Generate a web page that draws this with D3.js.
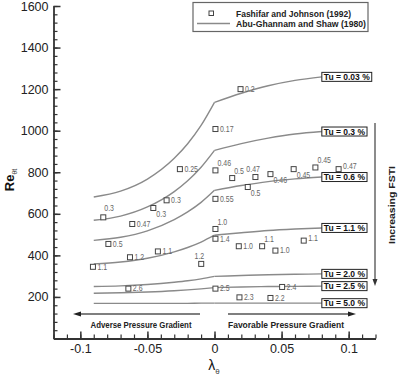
<!DOCTYPE html>
<html><head><meta charset="utf-8">
<script src="https://cdn.jsdelivr.net/npm/d3@7"></script>
<style>body{margin:0;background:#fff}svg{display:block}</style>
</head><body><svg id="c" width="402" height="378"></svg>
<script>
// ---- data ----
const lambdaGrid = [-0.09,-0.07,-0.05,-0.03,-0.02,-0.01,0,0.02,0.04,0.06,0.08];
const tuLabels = ["Tu = 0.03 %","Tu = 0.3 %","Tu = 0.6 %","Tu = 1.1 %","Tu = 2.0 %","Tu = 2.5 %","Tu = 5.0 %"];
const reTu003 = [681,709,767,867,937,1025,1136,1180,1216,1242,1259];
const reTu03  = [569,589,633,707,759,824,905,938,964,984,996];
const reTu06  = [472,487,518,572,609,655,713,736,755,768,777];
const reTu11  = [359,368,386,417,438,464,497,509,520,527,532];
const reTu20  = [250,253,260,271,278,287,299,303,307,309,311];
const reTu25  = [218,220,224,230,234,239,245,248,250,251,252];
const reTu50  = [169,169,169,169,169,170,170,170,170,170,170];
const curves = [reTu003,reTu03,reTu06,reTu11,reTu20,reTu25,reTu50];

const expLambda = [0.0194,0.0007,0.0007,0.0132,0.0305,0.0417,0.059,0.0752,0.0925,0.0248,0.0007,
  0.0007,0.0007,0.0181,0.0355,0.0454,0.0665,0.0007,0.0504,0.0186,0.0417,
  -0.0258,-0.0829,-0.0357,-0.0456,-0.0613,-0.0791,-0.063,-0.0422,-0.0099,-0.0906,-0.0642];
const expRe = [1200,1008,809,772,777,791,815,823,815,729,672,
  527,480,444,444,423,471,240,248,198,195,
  815,583,665,628,551,455,391,419,359,345,240];
const expTu = ["0.2","0.17","0.46","0.5","0.47","0.46","0.45","0.45","0.47","0.5","0.55",
  "1.0","1.4","1.0","1.1","1.0","1.1","2.5","2.4","2.3","2.2",
  "0.25","0.3","0.3","0.3","0.47","0.5","1.2","1.1","1.2","1.1","2.6"];
const expLabelPlace = ["r","r","ar","ar","ae","br","br","ar","ru","br","r",
  "ar","r","r","ar","r","ru","r","r","r","r",
  "r","a","r","br","r","r","r","r","al","r","r"];

const yTicks = [200,400,600,800,1000,1200,1400,1600];
const yTickLabels = ["200","400","600","800","1000","1200","1400","1600"];
const xTicks = [-0.1,-0.05,0,0.05,0.1];
const xTickLabels = ["-0.1","-0.05","0","0.05","0.1"];
const legendLabels = ["Fashifar and Johnson (1992)","Abu-Ghannam and Shaw (1980)"];

// ---- drawing ----
const svg = d3.select("#c");
const x = d3.scaleLinear().domain([-0.12,0.12]).range([53.5,375.5]);
const y = d3.scaleLinear().domain([0,1600]).range([338.5,6]);
const axisCol = "#333", curveCol = "#8a8a8a";
const FONT = "'Liberation Sans', Arial, sans-serif";

// minor ticks
svg.append("g").attr("transform","translate(53.5,0)")
  .call(d3.axisLeft(y).tickValues(d3.range(0,1601,40)).tickSizeInner(-4).tickSizeOuter(0).tickFormat(""))
  .call(g=>g.selectAll("line").attr("stroke",axisCol).attr("stroke-width",1.2))
  .call(g=>g.select(".domain").remove());
svg.append("g").attr("transform","translate(0,338.5)")
  .call(d3.axisBottom(x).tickValues(d3.range(-12,13).map(d=>d/100)).tickSizeInner(-4).tickSizeOuter(0).tickFormat(""))
  .call(g=>g.selectAll("line").attr("stroke",axisCol).attr("stroke-width",1.2))
  .call(g=>g.select(".domain").remove());

// major axes
const yAx = svg.append("g").attr("transform","translate(53.5,0)")
  .call(d3.axisLeft(y).tickValues(yTicks).tickSizeInner(-7).tickSizeOuter(0).tickPadding(5)
    .tickFormat((d,i)=>yTickLabels[i]));
const xAx = svg.append("g").attr("transform","translate(0,338.5)")
  .call(d3.axisBottom(x).tickValues(xTicks).tickSizeInner(-7).tickSizeOuter(0).tickPadding(6)
    .tickFormat((d,i)=>xTickLabels[i]));
[yAx,xAx].forEach(g=>{
  g.select(".domain").attr("stroke",axisCol).attr("stroke-width",1.8);
  g.selectAll("line").attr("stroke",axisCol).attr("stroke-width",1.5);
  g.selectAll("text").attr("font-family",FONT).attr("font-size",12.5).attr("fill","#222");
});

// axis titles
const yt = svg.append("text").attr("transform","translate(14,180) rotate(-90)")
  .attr("font-family",FONT).attr("text-anchor","middle").attr("fill","#111");
yt.append("tspan").attr("font-size",13).attr("font-weight","bold").text("Re");
yt.append("tspan").attr("font-size",7).attr("dy",3).attr("fill","#444").text("θt");
const xt = svg.append("text").attr("x",214).attr("y",370)
  .attr("font-family",FONT).attr("text-anchor","middle").attr("fill","#111");
xt.append("tspan").attr("font-size",14).text("λ");
xt.append("tspan").attr("font-size",8).attr("dy",4).attr("fill","#444").text("θ");

// curves: split at lambda = 0 to keep the kink
const line = d3.line().x(d=>x(d[0])).y(d=>y(d[1])).curve(d3.curveMonotoneX);
curves.forEach((vals,ci)=>{
  const pts = lambdaGrid.map((l,i)=>[l,vals[i]]);
  [pts.filter(p=>p[0]<=0), pts.filter(p=>p[0]>=0)].forEach(seg=>{
    svg.append("path").attr("d",line(seg)).attr("fill","none")
      .attr("stroke",curveCol).attr("stroke-width",1.4);
  });
});

// experimental points
const off = {r:[4.5,0,"start"],ru:[4.5,-2.5,"start"],ar:[2,-7,"start"],br:[3,6,"start"],
  a:[1,-9,"start"],al:[3,-8,"end"],ae:[4.5,-8,"end"]};
expLambda.forEach((l,i)=>{
  const px = x(l), py = y(expRe[i]);
  svg.append("rect").attr("x",px-2.5).attr("y",py-2.5).attr("width",5).attr("height",5)
    .attr("fill","#fff").attr("stroke","#444").attr("stroke-width",1);
  const o = off[expLabelPlace[i]];
  const t = svg.append("text").attr("x",px+o[0]).attr("y",py+o[1]).attr("dy","0.33em")
    .attr("text-anchor",o[2]).attr("font-family",FONT).attr("font-size",8.5).attr("fill","#666")
    .text(expTu[i]);
  const w = t.node().getComputedTextLength();
  t.attr("textLength",w*0.82).attr("lengthAdjust","spacingAndGlyphs");
});

// Tu label boxes at curve ends (drawn above the points)
curves.forEach((vals,ci)=>{
  const ex = x(lambdaGrid[lambdaGrid.length-1]), ey = y(vals[vals.length-1]);
  const g = svg.append("g");
  const t = g.append("text").attr("x",ex+2).attr("y",ey+3)
    .attr("font-family",FONT).attr("font-size",8.5).attr("font-weight","bold").attr("fill","#111")
    .text(tuLabels[ci]);
  const w = t.node().getComputedTextLength();
  g.insert("rect","text").attr("x",ex).attr("y",ey-4.5).attr("width",w+4).attr("height",9)
    .attr("fill","#fff").attr("stroke","#222").attr("stroke-width",1);
});

// legend
svg.append("rect").attr("x",193).attr("y",2.5).attr("width",175).attr("height",29)
  .attr("fill","#fff").attr("stroke","#666").attr("stroke-width",1.2);
svg.append("rect").attr("x",209).attr("y",11).attr("width",4.5).attr("height",4.5)
  .attr("fill","#fff").attr("stroke","#444");
svg.append("line").attr("x1",197).attr("x2",230).attr("y1",23.5).attr("y2",23.5)
  .attr("stroke",curveCol).attr("stroke-width",1.4);
legendLabels.forEach((s,i)=>{
  svg.append("text").attr("x",236).attr("y",[16.5,26.5][i]).text(s)
    .attr("font-family",FONT).attr("font-size",8.5).attr("font-weight","bold").attr("fill","#222")
    .attr("textLength",[115,130][i]).attr("lengthAdjust","spacingAndGlyphs");
});

// increasing FSTI arrow
svg.append("line").attr("x1",375).attr("x2",375).attr("y1",123).attr("y2",281)
  .attr("stroke","#666").attr("stroke-width",1.5);
svg.append("path").attr("d","M372.5,279 L377.5,279 L375,286 Z").attr("fill","#333");
svg.append("text").attr("transform","translate(395,205) rotate(-90)").attr("text-anchor","middle")
  .attr("font-family",FONT).attr("font-size",8.5).attr("font-weight","bold").attr("fill","#222")
  .attr("textLength",78).attr("lengthAdjust","spacingAndGlyphs").text("Increasing FSTI");

// pressure gradient arrows
svg.append("line").attr("x1",78).attr("x2",200).attr("y1",314).attr("y2",314).attr("stroke","#555").attr("stroke-width",1.5);
svg.append("path").attr("d","M73,314 L81,311.5 L81,316.5 Z").attr("fill","#222");
svg.append("line").attr("x1",228).attr("x2",350).attr("y1",314).attr("y2",314).attr("stroke","#555").attr("stroke-width",1.5);
svg.append("path").attr("d","M356,314 L348,311.5 L348,316.5 Z").attr("fill","#222");
[["Adverse Pressure Gradient",141,101],["Favorable Pressure Gradient",286,116]].forEach(a=>{
  svg.append("text").attr("x",a[1]).attr("y",327.5).attr("text-anchor","middle").text(a[0])
    .attr("font-family",FONT).attr("font-size",8.5).attr("font-weight","bold").attr("fill","#222")
    .attr("textLength",a[2]).attr("lengthAdjust","spacingAndGlyphs");
});
</script></body></html>
